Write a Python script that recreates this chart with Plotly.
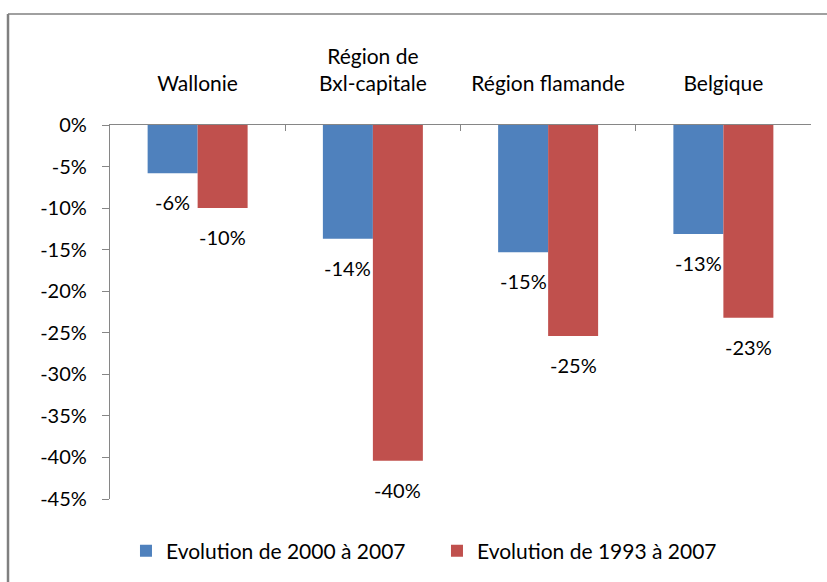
import plotly.graph_objects as go

categories = ["Wallonie", "Région de<br>Bxl-capitale", "Région flamande", "Belgique"]
series_names = ["Evolution de 2000 à 2007", "Evolution de 1993 à 2007"]
values_2000_2007 = [-5.8, -13.7, -15.3, -13.1]
values_1993_2007 = [-10.0, -40.4, -25.4, -23.2]
y_ticks = [0, -5, -10, -15, -20, -25, -30, -35, -40, -45]
y_tick_labels = ["0%", "-5%", "-10%", "-15%", "-20%", "-25%", "-30%", "-35%", "-40%", "-45%"]

colors = ["#4F81BD", "#C0504D"]
FONT = "Lato, Liberation Sans, Arial, sans-serif"

fig = go.Figure()
for name, vals, col in zip(series_names, [values_2000_2007, values_1993_2007], colors):
    fig.add_trace(go.Bar(x=categories, y=vals, name=name, marker=dict(color=col, line=dict(width=0))))

annotations = []
for s, vals in enumerate([values_2000_2007, values_1993_2007]):
    for c, v in zip(categories, vals):
        annotations.append(dict(
            x=c, y=v, xref="x", yref="y", text=("%.0f%%" % v).replace("−", "-"),
            showarrow=False, xshift=(-25 if s == 0 else 25), yshift=-29,
            font=dict(family=FONT, size=20, color="#000000"),
        ))

shapes = [
    dict(type="line", xref="paper", yref="paper", x0=-0.1455, x1=1.05, y0=1.2968, y1=1.2968,
         line=dict(color="#808080", width=1.5)),
    dict(type="line", xref="paper", yref="paper", x0=-0.1455, x1=-0.1455, y0=1.2968, y1=-0.25,
         line=dict(color="#808080", width=2.5)),
]

fig.update_layout(
    width=827, height=582,
    margin=dict(l=110, r=16, t=125, b=83, autoexpand=False),
    paper_bgcolor="white", plot_bgcolor="white",
    barmode="group", bargap=0.4294, bargroupgap=0,
    font=dict(family=FONT, size=20, color="#000000"),
    showlegend=True,
    legend=dict(orientation="h", x=0.0228, xanchor="left", y=-0.139, yanchor="middle",
                entrywidth=266, entrywidthmode="pixels",
                font=dict(family=FONT, size=21, color="#000000"), itemsizing="constant"),
    annotations=annotations,
    shapes=shapes,
)
fig.update_xaxes(
    side="top", showline=True, linecolor="#868686", linewidth=1.3, automargin=False,
    ticks="inside", tickson="boundaries", ticklen=6, tickcolor="#868686", tickwidth=1.3,
    showgrid=False, ticklabelstandoff=24, tickfont=dict(family=FONT, size=21),
)
fig.update_yaxes(
    range=[-45, 0], tickvals=y_ticks, ticktext=y_tick_labels, automargin=False,
    showline=True, linecolor="#868686", linewidth=1.3,
    ticks="outside", ticklen=7, tickcolor="#868686", tickwidth=1.3,
    showgrid=False, zeroline=False, ticklabelstandoff=11, tickfont=dict(family=FONT, size=20),
)

fig.write_html("out.html", post_script="document.body.style.margin='0';",
               config={"displayModeBar": False})
